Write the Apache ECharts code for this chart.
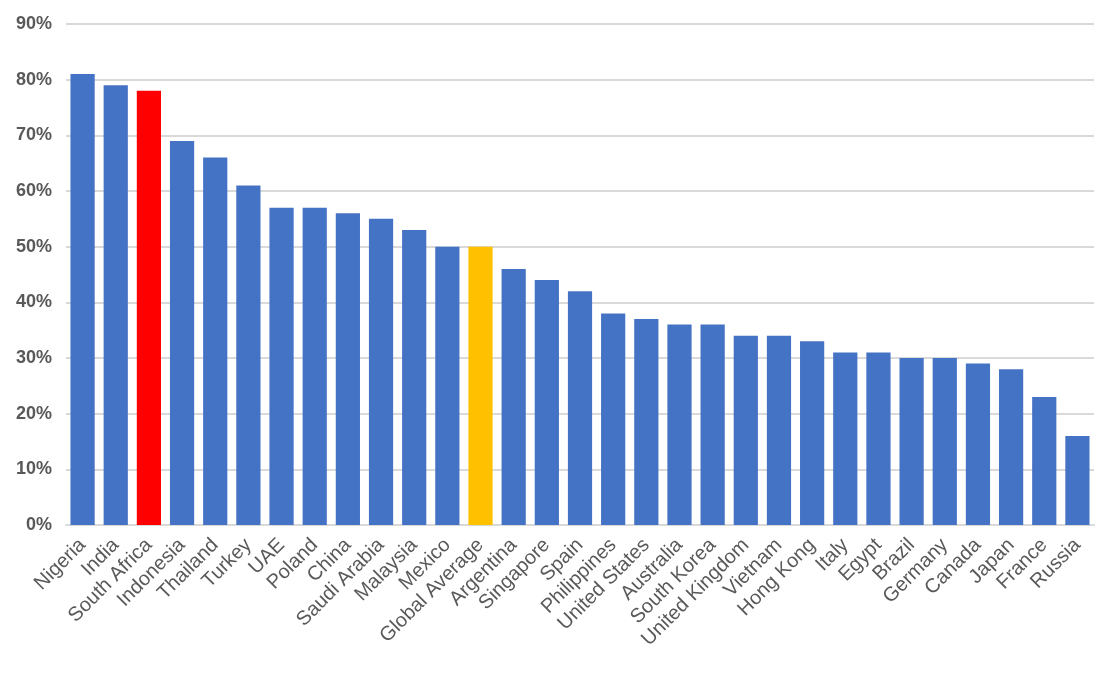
<!DOCTYPE html>
<html>
<head>
<meta charset="utf-8">
<script src="https://cdn.jsdelivr.net/npm/echarts@6/dist/echarts.min.js"></script>
<style>
  html, body { margin: 0; padding: 0; background: #fff; }
  #main { width: 1114px; height: 675px; }
</style>
</head>
<body>
<div id="main"></div>
<script>
var countries = ['Nigeria', 'India', 'South Africa', 'Indonesia', 'Thailand', 'Turkey', 'UAE', 'Poland', 'China',
  'Saudi Arabia', 'Malaysia', 'Mexico', 'Global Average', 'Argentina', 'Singapore', 'Spain', 'Philippines',
  'United States', 'Australia', 'South Korea', 'United Kingdom', 'Vietnam', 'Hong Kong', 'Italy', 'Egypt',
  'Brazil', 'Germany', 'Canada', 'Japan', 'France', 'Russia'];
var shares = [81, 79, 78, 69, 66, 61, 57, 57, 56, 55, 53, 50, 50, 46, 44, 42, 38, 37, 36, 36, 34, 34, 33, 31, 31,
  30, 30, 29, 28, 23, 16];
var highlight = { 'South Africa': '#FF0000', 'Global Average': '#FFC000' };

var chartDom = document.getElementById('main');
var myChart = echarts.init(chartDom);
var option;

option = {
  animation: false,
  grid: { left: 66, right: 20, top: 24, bottom: 150 },
  xAxis: {
    type: 'category',
    data: countries,
    axisTick: { show: false },
    axisLine: { lineStyle: { color: '#d9d9d9', width: 2 } },
    axisLabel: {
      rotate: 45,
      interval: 0,
      color: '#595959',
      fontSize: 20,
      fontFamily: 'Liberation Sans, Arial, sans-serif',
      margin: 17
    }
  },
  yAxis: {
    type: 'value',
    min: 0,
    max: 90,
    interval: 10,
    axisLabel: {
      formatter: '{value}%',
      color: '#595959',
      fontSize: 18,
      fontWeight: 'bold',
      fontFamily: 'Liberation Sans, Arial, sans-serif',
      margin: 14
    },
    splitLine: { lineStyle: { color: '#d9d9d9', width: 2 } }
  },
  series: [
    {
      type: 'bar',
      barCategoryGap: '27%',
      data: shares.map(function (v, i) {
        var c = highlight[countries[i]] || '#4472C4';
        return { value: v, itemStyle: { color: c } };
      })
    }
  ]
};

option && myChart.setOption(option);
</script>
</body>
</html>
